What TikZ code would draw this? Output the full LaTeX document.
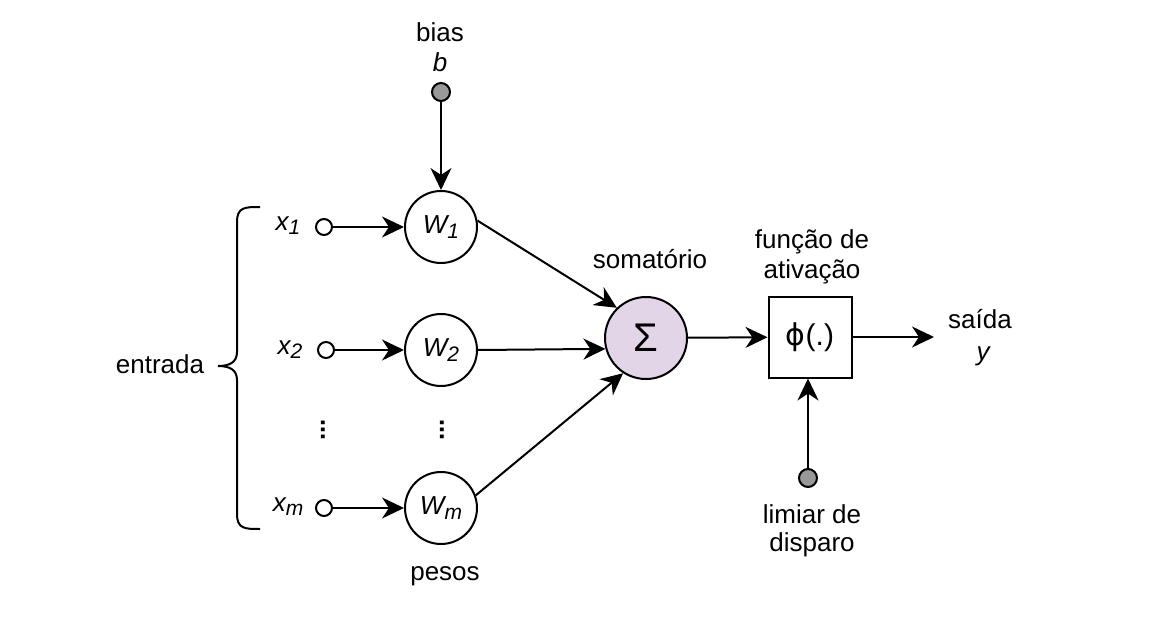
\documentclass[tikz,border=0pt]{standalone}
\usepackage{fontspec}
\setmainfont{Liberation Sans}
\newfontfamily\dejavu{DejaVu Sans}
\usetikzlibrary{arrows.meta,calc}
\definecolor{sumfill}{HTML}{E1D5E7}
\definecolor{dotgray}{HTML}{999999}
\tikzset{
  lbl/.style={font=\fontsize{13}{15}\selectfont, inner sep=0pt, anchor=center},
  wnode/.style={circle, draw, line width=1pt, minimum size=36pt, inner sep=0pt, fill=white, font=\fontsize{13}{15}\selectfont\itshape},
  inpt/.style={circle, draw, line width=1pt, minimum size=8pt, inner sep=0pt, fill=white},
  gdot/.style={circle, draw, line width=1pt, minimum size=9pt, inner sep=0pt, fill=dotgray},
  arr/.style={line width=1pt, -{Stealth[length=11pt, width=10.5pt, inset=3.5pt]}},
  ln/.style={line width=1pt}
}
\newcommand{\subtxt}[1]{\raisebox{-0.3ex}{\fontsize{10.5}{12}\selectfont #1}}
\begin{document}
\begin{tikzpicture}[x=0.5pt, y=-0.5pt]
\useasboundingbox (0,0) rectangle (1168,637);

% bias
\node[lbl] (biaslbl) at (440,32) {bias};
\node[lbl] (blbl) at (440,62) {\itshape b};
\node[gdot] (bdot) at (441,92) {};

% weights
\node[wnode] (w1) at (441,227) {W\subtxt{1}};
\node[wnode] (w2) at (441,350) {W\subtxt{2}};
\node[wnode] (wm) at (441,508) {W\subtxt{m}};

% inputs
\node[lbl] (x1lbl) at (288,226) {\itshape x\subtxt{1}};
\node[lbl] (x2lbl) at (290,350) {\itshape x\subtxt{2}};
\node[lbl] (xmlbl) at (288,507) {\itshape x\subtxt{m}};
\node[inpt] (c1) at (324,227) {};
\node[inpt] (c2) at (326,350) {};
\node[inpt] (cm) at (324,508) {};

% vertical dots
\node[lbl, font=\fontsize{13}{15}\selectfont\bfseries] (vd1) at (323,430) {\rotatebox{90}{...}};
\node[lbl, font=\fontsize{13}{15}\selectfont\bfseries] (vd2) at (442,430) {\rotatebox{90}{...}};

% sum
\node[circle, draw, line width=1pt, fill=sumfill, minimum size=41pt, inner sep=0pt, font=\fontsize{20}{22}\selectfont] (sig) at (646,338) {Σ};
\node[lbl] (somlbl) at (650,259) {somatório};

% activation box
\node[draw, line width=1pt, minimum width=41.5pt, minimum height=40.5pt, inner sep=0pt, font=\fontsize{15}{18}\selectfont] (box) at (810,337) {{\dejavu ϕ}(.)};
\node[lbl] (f1) at (812,242) {função de};
\node[lbl] (f2) at (812,272) {ativação};

% output
\coordinate (out) at (934,337);
\node[lbl] (said) at (980,319) {saída};
\node[lbl] (ylbl) at (983,356) {\itshape y};

% threshold
\node[gdot] (lim) at (808,478) {};
\node[lbl] (l1) at (812,514) {limiar de};
\node[lbl] (l2) at (812,545) {disparo};

% pesos, entrada
\node[lbl] (pesos) at (445,576) {pesos};
\node[lbl] (entr) at (160,364) {entrada};

% brace
\draw[ln] (260,207) .. controls (245,207) and (237,207) .. (237,222)
  -- (237,352) .. controls (237,362) and (230,366) .. (218,366)
  .. controls (230,366) and (237,370) .. (237,380)
  -- (237,514) .. controls (237,529) and (245,529) .. (260,529);

% connectors
\draw[arr] (bdot) -- (w1);
\draw[arr] (c1) -- (w1);
\draw[arr] (c2) -- (w2);
\draw[arr] (cm) -- (wm);
\draw[arr] (w1.10) -- (sig.134);
\draw[arr] (w2.east) -- (sig.195);
\draw[arr] (wm.20) -- (sig.237);
\draw[arr] (sig) -- (box);
\draw[arr] (box.east) -- (out);
\draw[arr] (lim) -- (lim |- box.south);
\end{tikzpicture}
\end{document}
